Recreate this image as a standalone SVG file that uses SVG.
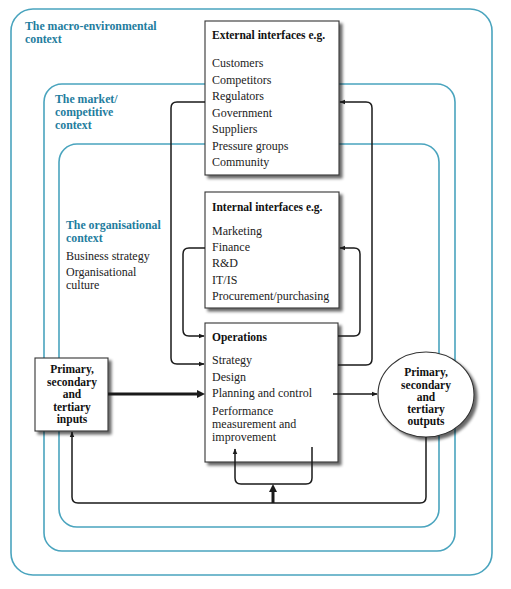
<svg xmlns="http://www.w3.org/2000/svg" width="511" height="589" viewBox="0 0 511 589">
<defs>
<style>
.ctx{fill:none;stroke:#4aa4be;stroke-width:1.6}
.ctxt{font-family:"Liberation Serif",serif;font-weight:bold;font-size:11.8px;fill:#1f7d9e}
.box{fill:#fff;stroke:#333;stroke-width:1.1}
.t{font-family:"Liberation Serif",serif;font-size:12px;fill:#222}
.b{font-family:"Liberation Serif",serif;font-size:11.5px;font-weight:bold;fill:#111}
.c{text-anchor:middle}
.con{fill:none;stroke:#1a1a1a;stroke-width:1.5}
.thick{fill:none;stroke:#1a1a1a;stroke-width:3}
</style>
<marker id="ah" viewBox="0 0 10 10" refX="9" refY="5" markerWidth="6" markerHeight="6" markerUnits="userSpaceOnUse" orient="auto">
<path d="M0,1 L10,5 L0,9 Z" fill="#1a1a1a"/>
</marker>
<filter id="sh" x="-10%" y="-10%" width="130%" height="130%">
<feGaussianBlur in="SourceAlpha" stdDeviation="1.5"/>
<feOffset dx="3" dy="3" result="o"/>
<feComponentTransfer><feFuncA type="linear" slope="0.6"/></feComponentTransfer>
<feMerge><feMergeNode/><feMergeNode in="SourceGraphic"/></feMerge>
</filter>
</defs>
<rect width="511" height="589" fill="#fff"/>

<g id="macro-context">
<rect class="ctx" x="11" y="9" width="481" height="566" rx="22"/>
<text class="ctxt" x="25" y="29.5">The macro-environmental</text>
<text class="ctxt" x="25" y="42.5">context</text>
</g>
<g id="market-context">
<rect class="ctx" x="44" y="84" width="411" height="467" rx="18"/>
<text class="ctxt" x="55" y="103">The market/</text>
<text class="ctxt" x="55" y="116">competitive</text>
<text class="ctxt" x="55" y="129">context</text>
</g>
<g id="org-context">
<rect class="ctx" x="59" y="144" width="380" height="383" rx="18"/>
<text class="ctxt" x="66" y="229">The organisational</text>
<text class="ctxt" x="66" y="242">context</text>
<text class="t" x="66" y="260">Business strategy</text>
<text class="t" x="66" y="275.5">Organisational</text>
<text class="t" x="66" y="288.5">culture</text>
</g>

<g id="external-interfaces">
<rect class="box" x="205" y="21" width="134" height="154" filter="url(#sh)"/>
<text class="b" x="212" y="39">External interfaces e.g.</text>
<text class="t" x="212" y="67">Customers</text>
<text class="t" x="212" y="84">Competitors</text>
<text class="t" x="212" y="100">Regulators</text>
<text class="t" x="212" y="117">Government</text>
<text class="t" x="212" y="133">Suppliers</text>
<text class="t" x="212" y="150">Pressure groups</text>
<text class="t" x="212" y="166">Community</text>
</g>

<g id="internal-interfaces">
<rect class="box" x="205" y="192" width="134" height="116" filter="url(#sh)"/>
<text class="b" x="212" y="211">Internal interfaces e.g.</text>
<text class="t" x="212" y="235">Marketing</text>
<text class="t" x="212" y="251">Finance</text>
<text class="t" x="212" y="267">R&amp;D</text>
<text class="t" x="212" y="283.5">IT/IS</text>
<text class="t" x="212" y="300">Procurement/purchasing</text>
</g>

<g id="operations">
<rect class="box" x="205" y="323" width="133" height="139" filter="url(#sh)"/>
<text class="b" x="212" y="341">Operations</text>
<text class="t" x="212" y="364">Strategy</text>
<text class="t" x="212" y="381">Design</text>
<text class="t" x="212" y="397">Planning and control</text>
<text class="t" x="212" y="415">Performance</text>
<text class="t" x="212" y="428">measurement and</text>
<text class="t" x="212" y="441">improvement</text>
</g>

<g id="inputs">
<rect class="box" x="35" y="358" width="73" height="73" filter="url(#sh)"/>
<text class="b c" x="72" y="373">Primary,</text>
<text class="b c" x="72" y="385.5">secondary</text>
<text class="b c" x="72" y="398">and</text>
<text class="b c" x="72" y="410.5">tertiary</text>
<text class="b c" x="72" y="423">inputs</text>
</g>

<g id="outputs">
<ellipse class="box" cx="426" cy="394.5" rx="48" ry="42.5" filter="url(#sh)"/>
<text class="b c" x="426" y="376">Primary,</text>
<text class="b c" x="426" y="388.5">secondary</text>
<text class="b c" x="426" y="401">and</text>
<text class="b c" x="426" y="413">tertiary</text>
<text class="b c" x="426" y="425">outputs</text>
</g>

<g id="connectors">
<path class="con" d="M205,102 H177 Q171,102 171,108 V358 Q171,364 177,364 H204" marker-end="url(#ah)"/>
<path class="con" d="M338,365 H366 Q372,365 372,359 V108 Q372,102 366,102 H340" marker-end="url(#ah)"/>
<path class="con" d="M205,248 H189 Q183,248 183,254 V330 Q183,336 189,336 H204" marker-end="url(#ah)"/>
<path class="con" d="M338,336 H354 Q360,336 360,330 V254 Q360,248 354,248 H340" marker-end="url(#ah)"/>
<path class="thick" d="M108,394 H198"/>
<path d="M197,390 L205,394 L197,398 Z" fill="#1a1a1a"/>
<path class="con" d="M333,394 H377" marker-end="url(#ah)"/>
<path class="con" d="M426,437 V497 Q426,503 420,503 H78 Q72,503 72,497 V432" marker-end="url(#ah)"/>
<path class="thick" d="M273,503 V491"/>
<path d="M269,492 L273,484 L277,492 Z" fill="#1a1a1a"/>
<path class="con" d="M312,447 V478 Q312,484 306,484 H241 Q235,484 235,478 V449" marker-end="url(#ah)"/>
</g>
</svg>
